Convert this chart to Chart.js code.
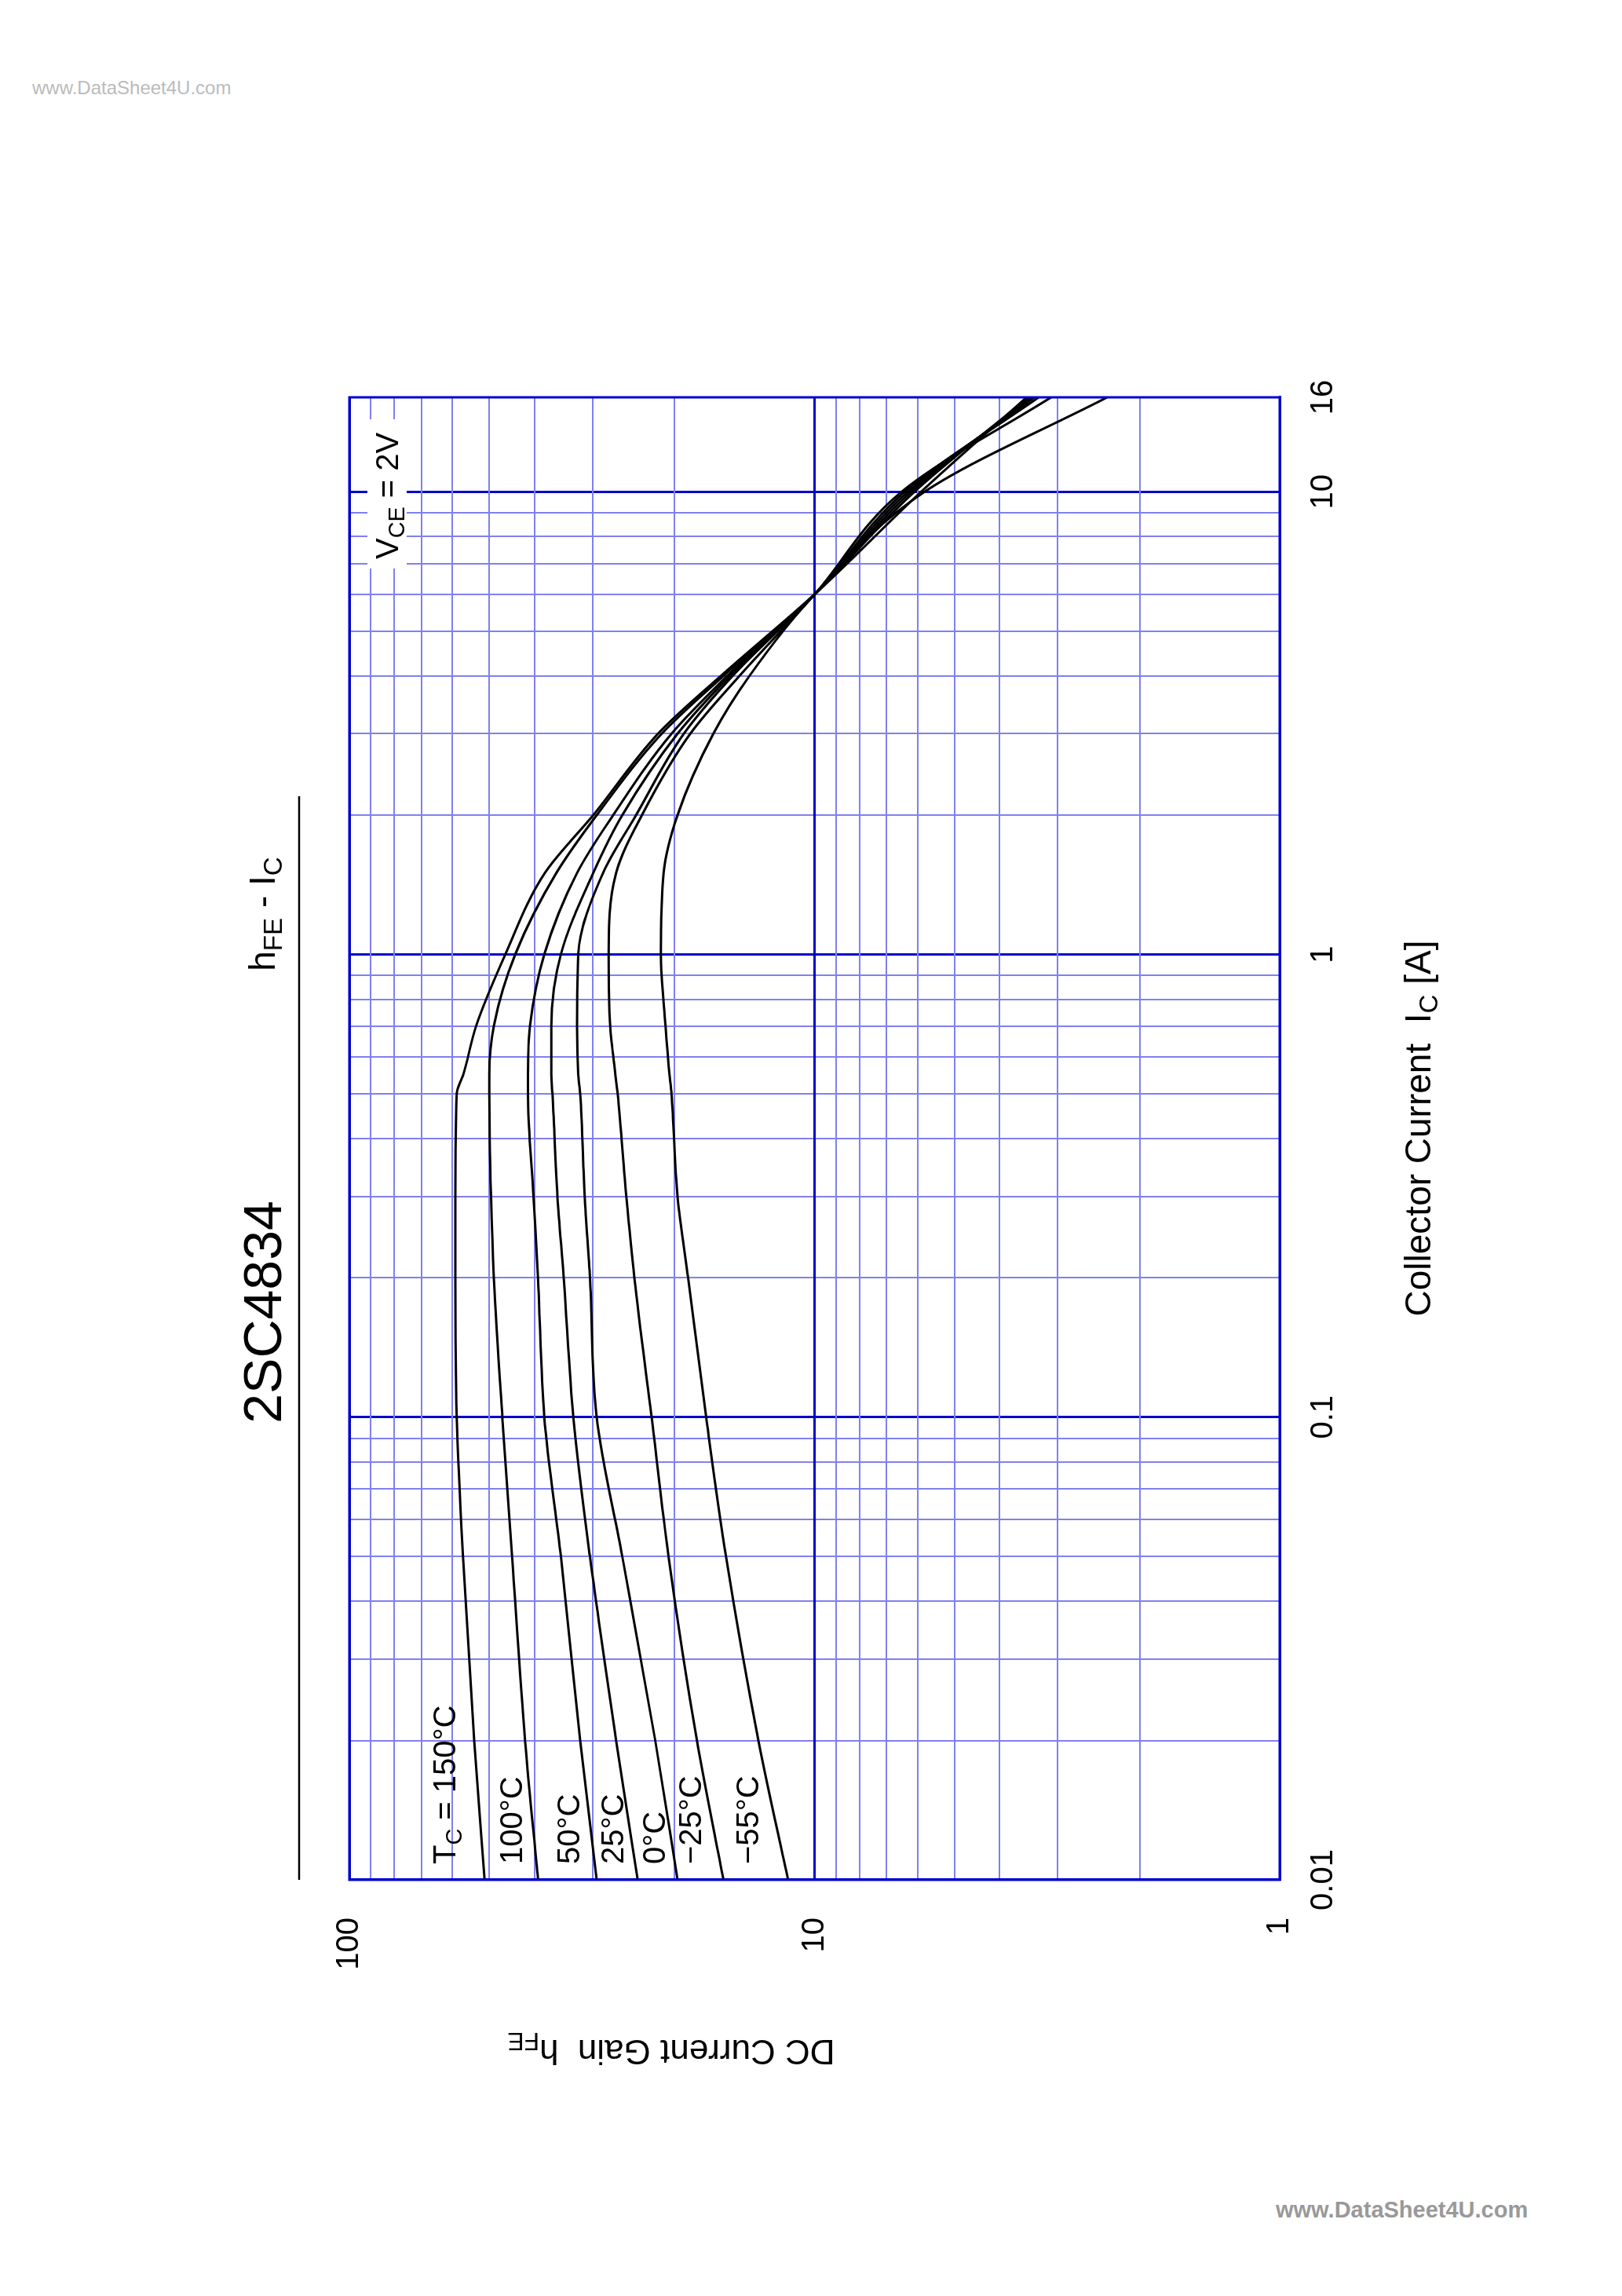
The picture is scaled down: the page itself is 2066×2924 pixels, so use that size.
<!DOCTYPE html>
<html><head><meta charset="utf-8">
<script src="https://cdn.jsdelivr.net/npm/chart.js@4"></script>
<style>
body{margin:0;background:#fff;width:2066px;height:2924px;overflow:hidden;position:relative;font-family:"Liberation Sans",Arial,sans-serif}
#rot{position:absolute;left:0;top:0;width:2924px;height:2066px;transform-origin:0 0;transform:translate(0,2924px) rotate(-90deg)}
.wm1{position:absolute;left:41px;top:98px;font-size:24px;color:#bbb}
.wm2{position:absolute;left:1625px;top:2798px;font-size:29px;color:#999;font-weight:bold}
</style></head><body>
<div class="wm1">www.DataSheet4U.com</div>
<div class="wm2">www.DataSheet4U.com</div>
<div id="rot"><canvas id="c" width="2924" height="2066"></canvas></div>
<script>
const ic = [0.01,0.02,0.05,0.1,0.2,0.3,0.5,0.55,0.7,1,1.5,2,3,4,6,10,16];
const hfe150 = [51.2,53.9,57,58.8,59.2,59.2,58.8,56.9,53.4,46.2,38,29.9,21.7,15.9,10,5.9,3.5];
const hfe100 = [39.3,41.9,44.7,46.9,48.9,49.6,50,50,48.9,44,35.9,29.4,21.3,15.7,10,6.1,3.47];
const hfe50  = [29.4,31.9,35.1,38.1,39.3,40.2,41.3,41.3,40.9,38.1,32.4,27.1,20.3,15.4,10,6.2,3.42];
const hfe25  = [24,26.7,30.4,33,34.6,35.7,36.6,36.8,36.8,35.1,29.9,25.9,19.7,15.2,10,6.3,3.37];
const hfe0   = [19.7,22,25.9,29.4,30.4,31.2,31.9,32.2,32.4,32.2,28.5,24.2,19.1,15,10,6.4,3.3];
const hfeM25 = [15.7,17.9,20.6,22.4,24.4,25.4,26.5,26.8,27.5,27.7,26.7,23.5,18.5,14.5,10,6.5,3.1];
const hfeM55 = [11.4,13.2,15.5,17.1,18.7,19.7,20.3,20.5,20.9,21.4,21.1,19.7,16.5,13.8,10,5.8,2.35];
const xTickLabels = ['0.01','0.1','1','10','16'];
const yTickLabels = ['1','10','100'];
const curveLabels = [['T','C',' = 150°C'],['100°C'],['50°C'],['25°C'],['0°C'],['−25°C'],['−55°C']];

function mk(arr){return ic.map((x,i)=>({x:x,y:arr[i]}));}
const series=[hfe150,hfe100,hfe50,hfe25,hfe0,hfeM25,hfeM55];
function gen(min,max,extra){const t=[];for(let d=min;d<max*0.999;d*=10){for(let k=1;k<10;k++){const v=d*k;if(v<=max*1.0001)t.push(v);}}
 extra.forEach(e=>{if(!t.some(v=>Math.abs(v-e)<1e-9))t.push(e)});t.push(max);return [...new Set(t.map(v=>+v.toPrecision(6)))].sort((a,b)=>a-b).map(v=>({value:v}));}
function isDec(v){const l=Math.log10(v);return Math.abs(l-Math.round(l))<1e-6;}
const gridColor=c=>isDec(c.tick.value)?'#0000cc':'#8080f0';
const gridW=c=>isDec(c.tick.value)?3:2;
const FONT='"Liberation Sans", Arial, sans-serif';

function drawSeg(ctx,parts,x,y,size,align){
 let w=0;const segs=[];
 parts.forEach((p,i)=>{const s=(i%2===1)?size*0.72:size;ctx.font=s+'px '+FONT;const m=ctx.measureText(p).width;segs.push([p,s,i%2===1,m]);w+=m;});
 let cx=align==='center'?x-w/2:x;
 segs.forEach(([p,s,sub,m])=>{ctx.font=s+'px '+FONT;ctx.fillText(p,cx,sub?y+size*0.2:y);cx+=m;});
 return w;
}
const textPlugin={id:'txt',afterDraw(chart){
 const ctx=chart.ctx,a=chart.chartArea;ctx.save();ctx.fillStyle='#000';ctx.textBaseline='alphabetic';ctx.textAlign='left';
 ctx.strokeStyle='#0000cc';ctx.lineWidth=3;ctx.strokeRect(a.left,a.top,a.right-a.left,a.bottom-a.top);
 ctx.font='68px '+FONT;ctx.textAlign='center';ctx.fillText('2SC4834',1253,358);
 ctx.textAlign='left';
 drawSeg(ctx,['h','FE',' - I','C'],1760,350,46,'center');
 ctx.strokeStyle='#000';ctx.lineWidth=2.5;ctx.beginPath();ctx.moveTo(530,381);ctx.lineTo(1910,381);ctx.stroke();
 drawSeg(ctx,['Collector Current  I','C',' [A]'],1487,1822,46,'center');
 ctx.save();ctx.translate(310,855);ctx.rotate(-Math.PI/2);drawSeg(ctx,['DC Current Gain  h','FE'],0,16,44,'center');ctx.restore();
 const vs=[565,650,723,779,832,878,951];
 curveLabels.forEach((p,i)=>{drawSeg(ctx,p,550,vs[i]+15,40,'left');});
 ctx.fillStyle='#fff';ctx.fillRect(2200,468,190,50);ctx.fillStyle='#000';
 drawSeg(ctx,['V','CE',' = 2V'],2212,507,40,'left');
 ctx.restore();}};

new Chart(document.getElementById('c'),{type:'scatter',
 data:{datasets:series.map(s=>({data:mk(s),showLine:true,borderColor:'#000',borderWidth:3,pointRadius:0,cubicInterpolationMode:'monotone'}))},
 options:{responsive:false,animation:false,devicePixelRatio:1,
  layout:{padding:{top:445,right:506,left:0,bottom:0}},
  plugins:{legend:{display:false},tooltip:{enabled:false}},
  scales:{
   x:{type:'logarithmic',min:0.01,max:16,
    afterBuildTicks:s=>{s.ticks=gen(0.01,16,[]);},
    afterFit:s=>{s.height=2066-1630;},
    grid:{color:gridColor,lineWidth:gridW,drawTicks:false},border:{color:'#0000cc',width:3},
    ticks:{autoSkip:false,maxRotation:0,padding:32,color:'#000',font:{size:40,family:FONT},
     callback:v=>{const s=+(+v).toPrecision(6)+'';return xTickLabels.includes(s)?s:'';}}},
   y:{type:'logarithmic',min:1,max:100,
    afterBuildTicks:s=>{s.ticks=gen(1,100,[]);},
    afterFit:s=>{s.width=530;},
    grid:{color:gridColor,lineWidth:gridW,drawTicks:false},border:{color:'#0000cc',width:3},
    ticks:{autoSkip:false,padding:48,color:'#000',font:{size:40,family:FONT},
     callback:v=>{const s=+(+v).toPrecision(6)+'';return yTickLabels.includes(s)?s:'';}}}
  }},plugins:[textPlugin]});
</script></body></html>
